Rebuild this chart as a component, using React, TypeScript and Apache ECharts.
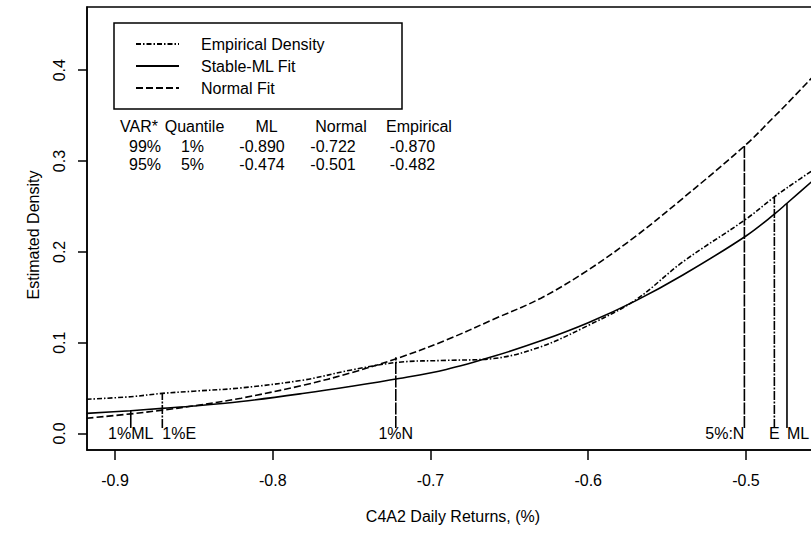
import React, { useEffect, useRef } from "react";
import * as echarts from "echarts";

// ---- data ----
const xGrid = [-0.918, -0.89, -0.87, -0.85, -0.82, -0.78, -0.75, -0.72, -0.69, -0.66, -0.63, -0.6, -0.57, -0.54, -0.5, -0.482, -0.474, -0.452];
const empiricalDensity = [0.0377, 0.0405, 0.0442, 0.0466, 0.0502, 0.059, 0.07, 0.0785, 0.0805, 0.0825, 0.0956, 0.119, 0.147, 0.189, 0.236, 0.2605, 0.2705, 0.2965];
const stableMLFit = [0.0222, 0.0251, 0.0277, 0.0302, 0.0352, 0.0443, 0.052, 0.0605, 0.0705, 0.085, 0.102, 0.122, 0.146, 0.1745, 0.2175, 0.2415, 0.2535, 0.287];
const normalFit = [0.0168, 0.0216, 0.0257, 0.0304, 0.0389, 0.0534, 0.067, 0.0834, 0.1029, 0.1258, 0.149, 0.18, 0.217, 0.259, 0.318, 0.349, 0.363, 0.403];
const seriesNames = ["Empirical Density", "Stable-ML Fit", "Normal Fit"];

const xTicks = [-0.9, -0.8, -0.7, -0.6, -0.5];
const yTicks = [0, 0.1, 0.2, 0.3, 0.4];

const quantileLabels = ["1%ML", "1%E", "1%N", "5%:N", "E", "ML"];
const quantileX = [-0.89, -0.87, -0.722, -0.501, -0.482, -0.474];
const quantileTop = [0.026, 0.0446, 0.084, 0.318, 0.2605, 0.2535];

const tableHeader = ["VAR*", "Quantile", "ML", "Normal", "Empirical"];
const tableRows = [
  ["99%", "1%", "-0.890", "-0.722", "-0.870"],
  ["95%", "5%", "-0.474", "-0.501", "-0.482"],
];

const FONT = "'Liberation Sans', Arial, Helvetica, sans-serif";

export default function App() {
  const ref = useRef<HTMLDivElement>(null);

  useEffect(() => {
    const chart = echarts.init(ref.current!, null, { renderer: "svg" });

    const curveStyles: any[] = [
      { type: [5, 2, 1.5, 2], width: 1.6 },
      { type: "solid", width: 1.6 },
      { type: [7, 3], width: 1.6 },
    ];
    const curves = [empiricalDensity, stableMLFit, normalFit].map((ys, k) => ({
      type: "line",
      name: seriesNames[k],
      data: xGrid.map((x, i) => [x, ys[i]]),
      smooth: 0.35,
      symbol: "none",
      showSymbol: false,
      silent: true,
      lineStyle: { color: "#000", ...curveStyles[k] },
      itemStyle: { color: "#000" },
      z: 3,
    }));

    const markerDash: any[] = ["solid", [9, 1.5, 2, 1.5], [12, 1.5], [12, 1.5], [9, 1.5, 2, 1.5], "solid"];
    const markers = quantileX.map((x, i) => ({
      type: "line",
      name: "q" + i,
      data: [
        [x, 0.006],
        [x, quantileTop[i]],
      ],
      symbol: "none",
      silent: true,
      lineStyle: { color: "#000", width: 1.6, type: markerDash[i] },
      z: 2,
    }));

    const labelAlign = ["center", "left", "center", "right", "center", "left"];
    const labelSeries = {
      type: "scatter",
      name: "labels",
      symbolSize: 0,
      silent: true,
      z: 5,
      itemStyle: { opacity: 1, color: "#000" },
      data: quantileX.map((x, i) => ({
        value: [x, 0],
        label: {
          show: true,
          position: "inside",
          formatter: quantileLabels[i],
          align: labelAlign[i],
          verticalAlign: "middle",
          color: "#000",
          fontSize: 16,
          fontFamily: FONT,
        },
      })),
    };

    const headerX = [139, 194.5, 266.5, 341, 419];
    const valueX = [145, 192.5, 262, 333, 412.5];
    const rowY = [146.7, 164.8];
    const tableTexts: any[] = [];
    tableHeader.forEach((t, j) =>
      tableTexts.push({
        type: "text",
        x: headerX[j],
        y: 126.7,
        style: { text: t, fill: "#000", font: `16px ${FONT}`, align: "center", verticalAlign: "middle" },
      })
    );
    tableRows.forEach((row, r) =>
      row.forEach((t, j) =>
        tableTexts.push({
          type: "text",
          x: valueX[j],
          y: rowY[r],
          style: { text: t, fill: "#000", font: `16px ${FONT}`, align: "center", verticalAlign: "middle" },
        })
      )
    );

    const axisCommon = {
      type: "value",
      axisLine: { show: true, onZero: false, lineStyle: { color: "#000", width: 1.5 } },
      splitLine: { show: false },
      nameLocation: "middle",
    };

    chart.setOption({
      animation: false,
      textStyle: { fontFamily: FONT, color: "#000" },
      grid: { left: 87, top: 7, right: 21, bottom: 85, show: true, borderColor: "#000", borderWidth: 1.5, backgroundColor: "transparent" },
      legend: {
        data: seriesNames,
        orient: "vertical",
        left: 135,
        top: 36,
        padding: 0,
        itemWidth: 43,
        itemHeight: 14,
        itemGap: 6,
        selectedMode: false,
        itemStyle: { opacity: 0 },
        textStyle: { fontSize: 16, color: "#000", fontFamily: FONT, padding: [0, 0, 0, 17] },
      },
      xAxis: {
        ...axisCommon,
        min: -0.91775,
        max: -0.4537,
        name: "C4A2 Daily Returns, (%)",
        nameGap: 58,
        nameTextStyle: { fontSize: 16, color: "#000", fontFamily: FONT },
        axisTick: { show: true, inside: false, length: 10, customValues: xTicks, lineStyle: { color: "#000", width: 1.5 } },
        axisLabel: { customValues: xTicks, formatter: (v: number) => v.toFixed(1), margin: 22, fontSize: 16, color: "#000", fontFamily: FONT },
      },
      yAxis: {
        ...axisCommon,
        min: -0.01817,
        max: 0.4696,
        name: "Estimated Density",
        nameGap: 46,
        nameRotate: 90,
        nameTextStyle: { fontSize: 16, color: "#000", fontFamily: FONT, padding: [0, 13, 0, 0] },
        axisTick: { show: true, inside: false, length: 9, customValues: yTicks, lineStyle: { color: "#000", width: 1.5 } },
        axisLabel: { customValues: yTicks, formatter: (v: number) => v.toFixed(1), rotate: 90, margin: 20, fontSize: 16, color: "#000", fontFamily: FONT },
      },
      graphic: [
        {
          type: "rect",
          shape: { x: 114, y: 23, width: 288, height: 86 },
          style: { fill: "transparent", stroke: "#000", lineWidth: 1.5 },
          silent: true,
        },
        ...tableTexts,
      ],
      series: [...markers, ...curves, labelSeries],
    });

    return () => chart.dispose();
  }, []);

  return (
    <div style={{ position: "fixed", left: 0, top: 0, width: 811, height: 535, overflow: "hidden", background: "#fff" }}>
      <div ref={ref} style={{ width: 840, height: 535 }} />
    </div>
  );
}
